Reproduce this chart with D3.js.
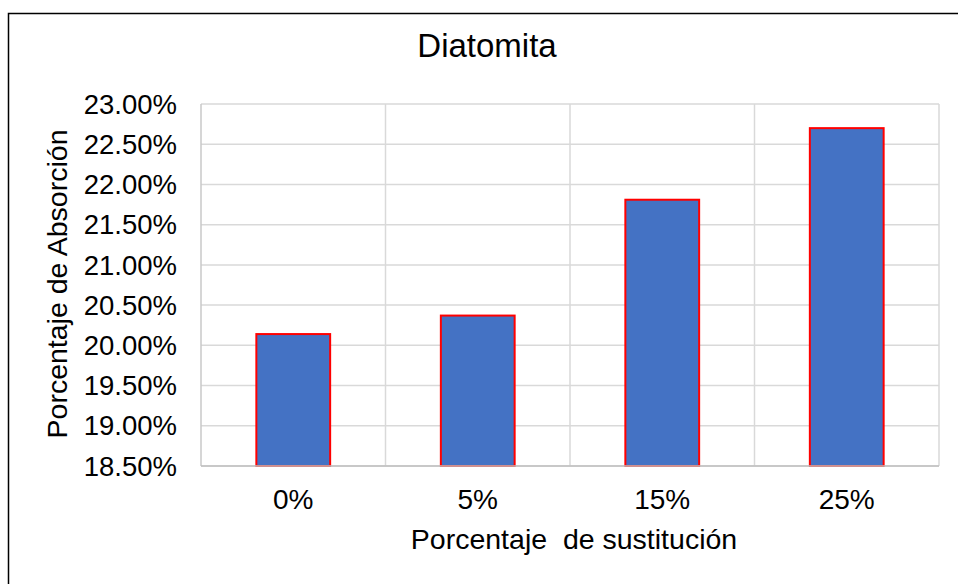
<!DOCTYPE html>
<html>
<head>
<meta charset="utf-8">
<script src="https://cdn.jsdelivr.net/npm/d3@7"></script>
<style>
  body { margin: 0; background: #fff; }
  text { font-family: "Liberation Sans", Arial, sans-serif; fill: #000; }
</style>
</head>
<body>
<svg id="chart" width="958" height="584"></svg>
<script>
// data
var categories = ['0%', '5%', '15%', '25%'];
var absorcion = [20.14, 20.37, 21.81, 22.70];
var yTicks = [18.5, 19.0, 19.5, 20.0, 20.5, 21.0, 21.5, 22.0, 22.5, 23.0];

document.addEventListener('DOMContentLoaded', function () {
    drawBarChart();
});

function drawBarChart() {
    const svg = d3.select('#chart');
    const margin = { top: 104, bottom: 118, left: 201, right: 19 };
    const width = 958, height = 584;

    // outer frame (runs off the right/bottom edge like the original)
    svg.append('rect')
        .attr('x', 8.5).attr('y', 13.5)
        .attr('width', 980).attr('height', 600)
        .attr('fill', 'none')
        .attr('stroke', '#000')
        .attr('stroke-width', 1.5);

    const x = d3.scaleBand()
        .domain(categories)
        .range([margin.left, width - margin.right])
        .paddingInner(0.6)
        .paddingOuter(0.3);

    const y = d3.scaleLinear()
        .domain([18.5, 23.0])
        .range([height - margin.bottom, margin.top]);

    const g = svg.append('g');

    // horizontal gridlines
    g.selectAll('line.hgrid')
        .data(yTicks)
        .enter()
        .append('line')
        .attr('class', 'hgrid')
        .attr('x1', margin.left).attr('x2', width - margin.right)
        .attr('y1', d => y(d)).attr('y2', d => y(d))
        .attr('stroke', '#d9d9d9')
        .attr('stroke-width', 1.5);

    // vertical gridlines between categories
    const bounds = d3.range(categories.length + 1).map(i => margin.left + i * (width - margin.right - margin.left) / categories.length);
    g.selectAll('line.vgrid')
        .data(bounds)
        .enter()
        .append('line')
        .attr('class', 'vgrid')
        .attr('x1', d => d).attr('x2', d => d)
        .attr('y1', margin.top).attr('y2', height - margin.bottom)
        .attr('stroke', (d, i) => i == 0 ? '#c8c8c8' : '#d9d9d9')
        .attr('stroke-width', 1.5);

    // bars
    g.selectAll('rect.bar')
        .data(absorcion)
        .enter()
        .append('rect')
        .attr('class', 'bar')
        .attr('x', (d, i) => x(categories[i]))
        .attr('width', x.bandwidth())
        .attr('y', d => y(d))
        .attr('height', d => y(18.5) - y(d))
        .attr('fill', '#4472c4')
        .attr('stroke', '#ff0000')
        .attr('stroke-width', 2);

    // x axis line
    g.append('line')
        .attr('x1', margin.left).attr('x2', width - margin.right)
        .attr('y1', y(18.5)).attr('y2', y(18.5))
        .attr('stroke', '#bfbfbf')
        .attr('stroke-width', 1.5);

    // y tick labels
    g.selectAll('text.ytick')
        .data(yTicks)
        .enter()
        .append('text')
        .attr('class', 'ytick')
        .attr('x', 177)
        .attr('y', d => y(d))
        .attr('dy', '0.35em')
        .attr('text-anchor', 'end')
        .attr('font-size', 27.5)
        .text(d => d3.format('.2f')(d) + '%');

    // x tick labels
    g.selectAll('text.xtick')
        .data(categories)
        .enter()
        .append('text')
        .attr('class', 'xtick')
        .attr('x', d => x(d) + x.bandwidth() / 2)
        .attr('y', 509)
        .attr('text-anchor', 'middle')
        .attr('font-size', 28)
        .text(d => d);

    // title
    svg.append('text')
        .attr('x', 487).attr('y', 57)
        .attr('text-anchor', 'middle')
        .attr('font-size', 33)
        .text('Diatomita');

    // axis titles
    svg.append('text')
        .attr('x', 574).attr('y', 549)
        .attr('text-anchor', 'middle')
        .attr('font-size', 28.5)
        .attr('xml:space', 'preserve')
        .style('white-space', 'pre')
        .text('Porcentaje  de sustitución');

    svg.append('text')
        .attr('transform', 'translate(67,284) rotate(-90)')
        .attr('text-anchor', 'middle')
        .attr('font-size', 28.5)
        .text('Porcentaje de Absorción');

    console.log('trace:drawBarChart()');
}
</script>
</body>
</html>
